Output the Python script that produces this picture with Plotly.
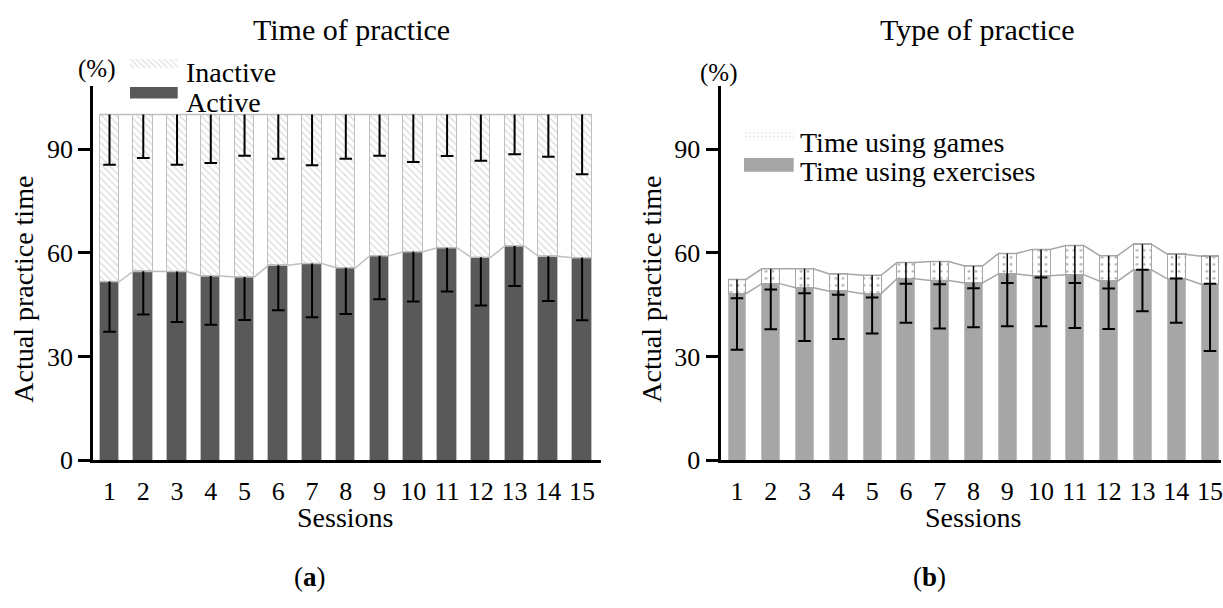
import plotly.graph_objects as go

# ---------------- data ----------------
sessions = list(range(1, 16))
session_labels = [str(s) for s in sessions]
y_ticks = [0, 30, 60, 90]

# Panel (a): Time of practice (%)
active = [51.7, 54.7, 54.6, 53.3, 53.0, 56.4, 56.9, 55.7, 59.2, 60.3, 61.5, 58.7, 62.0, 59.0, 58.6]
active_sd = [14.5, 12.5, 14.6, 14.1, 12.4, 13.0, 15.5, 13.4, 12.6, 14.4, 12.7, 13.9, 11.6, 12.9, 18.1]
inactive = [round(100 - a, 1) for a in active]
inactive_sd = [14.5, 12.6, 14.5, 14.0, 11.9, 12.8, 14.7, 12.8, 11.9, 13.7, 12.0, 13.4, 11.5, 12.2, 17.3]

# Panel (b): Type of practice (%)
exercises = [48.2, 51.1, 49.9, 48.9, 48.2, 52.5, 52.0, 51.3, 53.9, 53.4, 53.7, 51.8, 55.1, 52.5, 50.9]
exercises_sd = [16.2, 13.2, 15.4, 13.8, 11.5, 12.7, 13.9, 12.8, 15.1, 14.6, 15.4, 13.8, 12.0, 12.7, 19.3]
games = [4.1, 4.3, 5.5, 5.0, 5.3, 4.7, 5.5, 4.9, 5.9, 7.6, 8.4, 7.4, 7.4, 7.1, 8.1]
games_sd = [5.4, 6.0, 7.1, 6.0, 6.4, 6.1, 6.6, 6.4, 8.5, 8.1, 10.8, 9.5, 7.4, 7.0, 7.9]

# ---------------- style ----------------
W, H = 1223, 608
FONT = "Liberation Serif"
DARK = "#595959"
MID = "#a6a6a6"
EDGE = "#bfbfbf"
BW_A = 0.58
BW_B = 0.53


def px_x(p):
    return p / W


def px_y(p):
    return (H - p) / H


fig = go.Figure()

Y_DOM = [px_y(472), px_y(88)]
Y_RANGE = [0, 108.3]


def top_line(vals, bw, xa, ya, color, width):
    xs, ys = [], []
    for s, v in zip(sessions, vals):
        xs += [s - bw / 2, s + bw / 2]
        ys += [v, v]
    return go.Scatter(x=xs, y=ys, mode="lines", line=dict(color=color, width=width),
                      xaxis=xa, yaxis=ya, hoverinfo="skip", showlegend=False)


def err_down(tops, sds, xa, ya, width):
    xs, ys = [], []
    for s, t, d in zip(sessions, tops, sds):
        xs += [s, s, None]
        ys += [t, t - d, None]
    lines = go.Scatter(x=xs, y=ys, mode="lines", line=dict(color="black", width=width),
                       xaxis=xa, yaxis=ya, hoverinfo="skip", showlegend=False)
    caps = go.Scatter(x=sessions, y=[t - d for t, d in zip(tops, sds)], mode="markers",
                      marker=dict(symbol="line-ew", size=9, line=dict(color="black", width=2)),
                      xaxis=xa, yaxis=ya, hoverinfo="skip", showlegend=False)
    return [lines, caps]


# ---- panel (a)
fig.add_trace(go.Bar(x=sessions, y=active, width=BW_A, name="Active",
                     marker=dict(color=DARK, line=dict(color=EDGE, width=1)),
                     xaxis="x", yaxis="y", showlegend=False))
fig.add_trace(go.Bar(x=sessions, y=inactive, width=BW_A, name="Inactive",
                     marker=dict(color="white", line=dict(color=EDGE, width=1),
                                 pattern=dict(shape="\\", fgcolor=EDGE, bgcolor="white",
                                              size=5, solidity=0.3)),
                     xaxis="x", yaxis="y", showlegend=False))
tops_a = [a + i for a, i in zip(active, inactive)]
fig.add_trace(top_line(active, BW_A, "x", "y", EDGE, 1.5))
fig.add_trace(top_line(tops_a, BW_A, "x", "y", EDGE, 1.5))
for t in err_down(active, active_sd, "x", "y", 2):
    fig.add_trace(t)
for t in err_down(tops_a, inactive_sd, "x", "y", 2):
    fig.add_trace(t)

# ---- panel (b)
fig.add_trace(go.Bar(x=sessions, y=exercises, width=BW_B, name="Time using exercises",
                     marker=dict(color=MID, line=dict(color=EDGE, width=1)),
                     xaxis="x2", yaxis="y2", showlegend=False))
fig.add_trace(go.Bar(x=sessions, y=games, width=BW_B, name="Time using games",
                     marker=dict(color="white", line=dict(color=MID, width=1),
                                 pattern=dict(shape=".", fgcolor="#555555", bgcolor="white",
                                              size=7, solidity=0.12)),
                     xaxis="x2", yaxis="y2", showlegend=False))
totals = [e + g for e, g in zip(exercises, games)]
fig.add_trace(top_line(exercises, BW_B, "x2", "y2", MID, 1.5))
fig.add_trace(top_line(totals, BW_B, "x2", "y2", MID, 1.5))
for t in err_down(exercises, exercises_sd, "x2", "y2", 2):
    fig.add_trace(t)
for t in err_down(totals, games_sd, "x2", "y2", 1.5):
    fig.add_trace(t)

# ---- legend swatches drawn as bars on small helper axes
swatches = [
    (130, 178, 60, 70, dict(color="white", line=dict(width=0),
                            pattern=dict(shape="\\", fgcolor=EDGE, bgcolor="white", size=4, solidity=0.3))),
    (130, 178, 89, 101, dict(color=DARK, line=dict(width=0))),
    (745, 795, 134, 144, dict(color="white", line=dict(width=0),
                              pattern=dict(shape=".", fgcolor="#aaaaaa", bgcolor="white", size=4, solidity=0.15))),
    (745, 795, 162, 176, dict(color=MID, line=dict(width=0))),
]
layout_extra = {}
for k, (x0, x1, yt, yb, mk) in enumerate(swatches):
    n = k + 3
    fig.add_trace(go.Bar(x=[0], y=[1], width=[1], marker=mk, xaxis=f"x{n}", yaxis=f"y{n}",
                         showlegend=False, hoverinfo="skip"))
    layout_extra[f"xaxis{n}"] = dict(domain=[px_x(x0), px_x(x1)], range=[-0.5, 0.5], visible=False,
                                     anchor=f"y{n}", fixedrange=True)
    layout_extra[f"yaxis{n}"] = dict(domain=[px_y(yb), px_y(yt)], range=[0, 1], visible=False,
                                     anchor=f"x{n}", fixedrange=True)

tick_font = dict(family=FONT, size=26, color="black")


def yax():
    return dict(domain=Y_DOM, range=Y_RANGE, tickvals=y_ticks, ticks="outside", ticklen=12,
                tickwidth=3, tickcolor="black", showline=True, linewidth=3, linecolor="black",
                showgrid=False, zeroline=False, tickfont=tick_font, fixedrange=True)


def xax(dom, rng, anchor):
    return dict(domain=dom, range=rng, tickvals=sessions, ticktext=session_labels,
                ticks="outside", ticklen=5, tickcolor="rgba(0,0,0,0)", showline=True,
                linewidth=3, linecolor="black", showgrid=False, zeroline=False,
                tickfont=tick_font, anchor=anchor, fixedrange=True, ticklabeloverflow="allow")


ann = []


def text(x, y, s, size=27, xanchor="center", yanchor="middle", angle=0):
    ann.append(dict(x=px_x(x), y=px_y(y), xref="paper", yref="paper", text=s, showarrow=False,
                    font=dict(family=FONT, size=size, color="black"), xanchor=xanchor,
                    yanchor=yanchor, textangle=angle))


text(352, 30, "Time of practice", size=30)
text(979, 30, "Type of practice", size=30)
text(97, 71, "(%)", size=25)
text(720, 75, "(%)", size=25)
text(184, 74, "Inactive", size=28, xanchor="left")
text(184, 105, "Active", size=28, xanchor="left")
text(799, 146, "Time using games", size=28, xanchor="left")
text(799, 176, "Time using exercises", size=28, xanchor="left")
text(24, 296, "Actual practice time", size=28, angle=-90)
text(653, 296, "Actual practice time", size=28, angle=-90)
text(346, 531, "Sessions", size=28)
text(975, 531, "Sessions", size=28)
text(311, 592, "(<b>a</b>)", size=27)
text(931, 592, "(<b>b</b>)", size=27)

shapes = []
for xa, ya in (("x", "y"), ("x2", "y2")):
    shapes.append(dict(type="line", xref=f"{xa} domain", yref=ya, ysizemode="pixel", yanchor=0,
                       x0=0, x1=0, y0=0, y1=-14, line=dict(color="black", width=3)))

fig.update_layout(
    width=W, height=H, margin=dict(l=0, r=0, t=0, b=0),
    paper_bgcolor="white", plot_bgcolor="white",
    barmode="stack", bargap=0,
    xaxis=xax([px_x(93.3), px_x(602)], [0.515, 15.56], "y"),
    yaxis=dict(yax(), anchor="x"),
    xaxis2=xax([px_x(721.7), 1.0], [0.513, 15.325], "y2"),
    yaxis2=dict(yax(), anchor="x2"),
    annotations=ann, shapes=shapes, showlegend=False,
    **layout_extra,
)

fig.write_html("out.html", config={"displayModeBar": False},
               post_script="document.body.style.margin='0px';document.body.style.overflow='hidden';")
